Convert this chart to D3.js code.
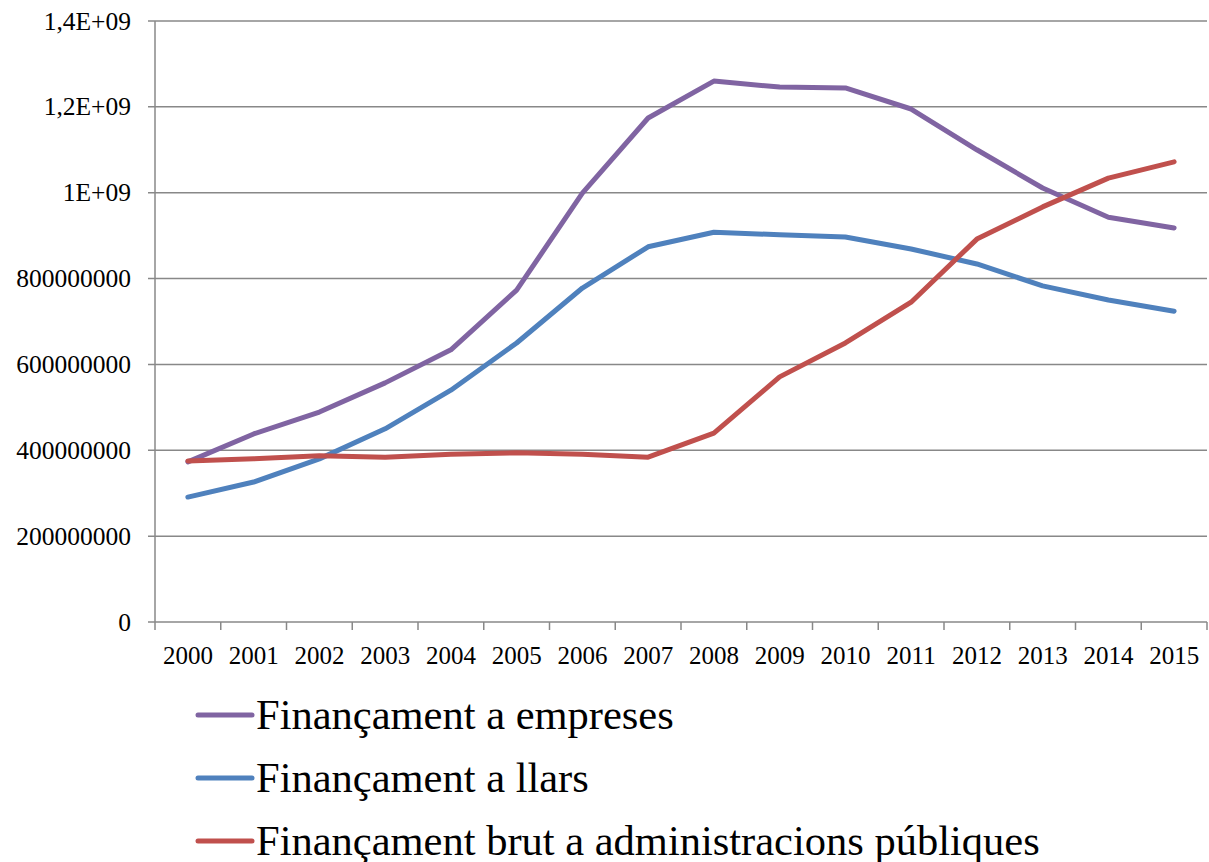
<!DOCTYPE html>
<html>
  <head>
    <meta charset="utf-8">
    <script src="https://d3js.org/d3.v7.min.js"></script>
    <style>
      body { margin: 0; background: #fff; }
      svg text { font-family: "Liberation Serif", "Times New Roman", serif; fill: #000; }
    </style>
  </head>
  <body>
    <svg id="chart" width="1209" height="862"></svg>
    <script>
      const years = ["2000","2001","2002","2003","2004","2005","2006","2007","2008","2009","2010","2011","2012","2013","2014","2015"]
      const empreses = [373e6,438e6,489e6,557e6,634e6,773e6,999e6,1174e6,1260e6,1246e6,1244e6,1195e6,1100e6,1011e6,943e6,918e6]
      const llars = [291e6,326e6,380e6,450e6,540e6,650e6,778e6,874e6,908e6,902e6,897e6,869e6,834e6,783e6,750e6,724e6]
      const admin = [375e6,380e6,387e6,384e6,391e6,394e6,391e6,384e6,440e6,571e6,650e6,745e6,892e6,967e6,1034e6,1072e6]
      const yTicks = [0,2e8,4e8,6e8,8e8,1e9,1.2e9,1.4e9]
      const yTickLabels = ["0","200000000","400000000","600000000","800000000","1E+09","1,2E+09","1,4E+09"]

      const series = [
        {name: "Finançament a empreses", values: empreses, color: "#8064A2"},
        {name: "Finançament a llars", values: llars, color: "#4F81BD"},
        {name: "Finançament brut a administracions públiques", values: admin, color: "#C0504D"}
      ]

      const svg = d3.select("#chart")
      const plotLeft = 155, plotRight = 1207, plotTop = 21, plotBottom = 622

      let x = d3.scaleBand().domain(years).range([plotLeft, plotRight])
      let y = d3.scaleLinear().domain([0, 1.4e9]).range([plotBottom, plotTop])

      // grid
      svg.append("g").selectAll("line")
        .data(yTicks)
        .join("line")
          .attr("x1", plotLeft - 7).attr("x2", plotRight)
          .attr("y1", d => y(d)).attr("y2", d => y(d))
          .attr("stroke", "#888").attr("stroke-width", 1.5)

      // y axis labels
      svg.append("g").selectAll("text")
        .data(yTicks)
        .join("text")
          .attr("x", 131).attr("y", d => y(d) + 8.5)
          .attr("text-anchor", "end")
          .style("font-size", "25.5px")
          .text((d, i) => yTickLabels[i])

      // y axis line
      svg.append("line")
        .attr("x1", plotLeft).attr("x2", plotLeft).attr("y1", plotTop).attr("y2", plotBottom)
        .attr("stroke", "#888").attr("stroke-width", 1.5)

      // x axis ticks at band edges
      const edges = years.map(d => x(d)).concat([plotRight])
      svg.append("g").selectAll("line")
        .data(edges)
        .join("line")
          .attr("x1", d => d).attr("x2", d => d)
          .attr("y1", plotBottom).attr("y2", plotBottom + 8)
          .attr("stroke", "#888").attr("stroke-width", 1.5)

      svg.append("g").selectAll("text")
        .data(years)
        .join("text")
          .attr("x", d => x(d) + x.bandwidth() / 2)
          .attr("y", 664)
          .attr("text-anchor", "middle")
          .style("font-size", "25px")
          .text(d => d)

      const line = d3.line()
        .x((d, i) => x(years[i]) + x.bandwidth() / 2)
        .y(d => y(d))

      svg.append("g").selectAll("path")
        .data(series)
        .join("path")
          .attr("d", d => line(d.values))
          .attr("fill", "none")
          .attr("stroke", d => d.color)
          .attr("stroke-width", 5)
          .attr("stroke-linejoin", "round")
          .attr("stroke-linecap", "round")

      // legend
      const legend = svg.append("g").selectAll("g")
        .data(series)
        .join("g")
          .attr("transform", (d, i) => `translate(0, ${715 + i * 63})`)
      legend.append("line")
        .attr("x1", 198).attr("x2", 252).attr("y1", 0).attr("y2", 0)
        .attr("stroke", d => d.color).attr("stroke-width", 5)
        .attr("stroke-linecap", "round")
      legend.append("text")
        .attr("x", 256).attr("y", 14)
        .style("font-size", "42.5px")
        .text(d => d.name)
    </script>
  </body>
</html>
